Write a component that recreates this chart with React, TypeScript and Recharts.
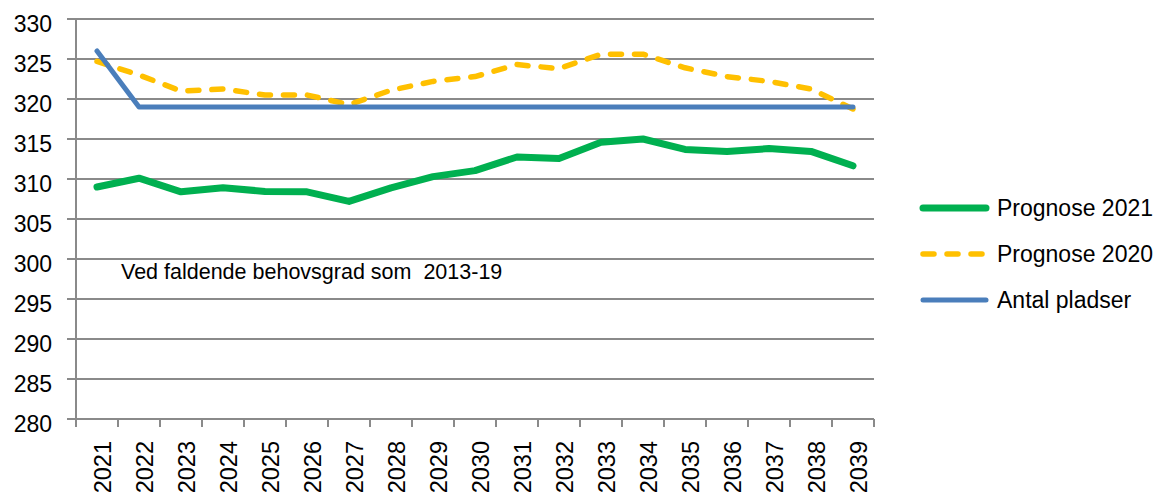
import React from "react"
import { CartesianGrid, Line, LineChart, XAxis, YAxis } from "recharts"

const years = [
  "2021", "2022", "2023", "2024", "2025", "2026", "2027", "2028", "2029", "2030",
  "2031", "2032", "2033", "2034", "2035", "2036", "2037", "2038", "2039",
]
const prognose2021 = [
  309.0, 310.1, 308.4, 308.9, 308.45, 308.4, 307.2, 308.9, 310.3, 311.05,
  312.75, 312.55, 314.6, 315.0, 313.7, 313.45, 313.8, 313.45, 311.65,
]
const prognose2020 = [
  324.7, 323.0, 321.0, 321.25, 320.5, 320.5, 319.3, 321.1, 322.2, 322.8,
  324.3, 323.8, 325.6, 325.6, 323.9, 322.8, 322.2, 321.25, 318.75,
]
const antalPladser = [
  326, 319, 319, 319, 319, 319, 319, 319, 319, 319,
  319, 319, 319, 319, 319, 319, 319, 319, 319,
]
const yTicks = [280, 285, 290, 295, 300, 305, 310, 315, 320, 325, 330]

const FONT = "'Liberation Sans', Arial, sans-serif"
const GRID = "#8a8a8a"

const series = [
  { key: "p2021", name: "Prognose 2021", color: "#00b050", width: 7, dash: undefined },
  { key: "p2020", name: "Prognose 2020", color: "#ffc000", width: 5.5, dash: "11 13" },
  { key: "antal", name: "Antal pladser", color: "#4a7ebb", width: 5, dash: undefined },
]

const data = years.map((year, i) => ({
  year,
  p2021: prognose2021[i],
  p2020: prognose2020[i],
  antal: antalPladser[i],
}))

const HALF_BAND = 21

function XTick(props: any) {
  const { x, y, payload, index } = props
  return (
    <g>
      <line x1={x - HALF_BAND} x2={x - HALF_BAND} y1={y} y2={y + 8} stroke={GRID} strokeWidth={2} />
      {index === years.length - 1 && (
        <line x1={x + HALF_BAND} x2={x + HALF_BAND} y1={y} y2={y + 8} stroke={GRID} strokeWidth={2} />
      )}
      <text
        transform={`translate(${x + 14},${y + 22}) rotate(-90)`}
        textAnchor="end"
        fontSize={23.5}
        fontFamily={FONT}
        fill="#000"
      >
        {payload.value}
      </text>
    </g>
  )
}

function YTick(props: any) {
  const { x, y, payload } = props
  return (
    <text x={x} y={y + 13} textAnchor="end" fontSize={23} fontFamily={FONT} fill="#000">
      {payload.value}
    </text>
  )
}

export default function App() {
  return (
    <div style={{ position: "absolute", left: 0, top: 0, width: 1158, height: 495, background: "#fff" }}>
      <LineChart
        width={1158}
        height={495}
        data={data}
        margin={{ top: 19, right: 284, left: 0, bottom: 0 }}
      >
        <CartesianGrid vertical={false} stroke={GRID} strokeWidth={2} />
        <XAxis
          dataKey="year"
          height={76}
          padding={{ left: HALF_BAND, right: HALF_BAND }}
          axisLine={{ stroke: GRID, strokeWidth: 2 }}
          tickLine={false}
          tickSize={0}
          tickMargin={0}
          interval={0}
          tick={<XTick />}
        />
        <YAxis
          domain={[280, 330]}
          ticks={yTicks}
          width={76}
          interval={0}
          axisLine={{ stroke: GRID, strokeWidth: 2 }}
          tickLine={{ stroke: GRID, strokeWidth: 2 }}
          tickSize={9}
          tickMargin={15}
          tick={<YTick />}
        />
        {series.map((s) => (
          <Line
            key={s.key}
            dataKey={s.key}
            name={s.name}
            type="linear"
            stroke={s.color}
            strokeWidth={s.width}
            strokeDasharray={s.dash}
            strokeLinecap="round"
            strokeLinejoin="round"
            dot={false}
            activeDot={false}
            isAnimationActive={false}
          />
        ))}
      </LineChart>
      <svg
        width={1158}
        height={495}
        style={{ position: "absolute", left: 0, top: 0, pointerEvents: "none" }}
      >
        <text x={121} y={279} fontSize={21.5} fontFamily={FONT} fill="#000" style={{ whiteSpace: "pre" }}>
          {"Ved faldende behovsgrad som  2013-19"}
        </text>
        {series.map((s, i) => {
          const cy = 208 + i * 46
          return (
            <g key={s.key}>
              <line
                x1={923}
                x2={986}
                y1={cy}
                y2={cy}
                stroke={s.color}
                strokeWidth={s.width}
                strokeLinecap="round"
                strokeDasharray={s.dash ? "11 13" : undefined}
              />
              <text x={997} y={cy + 8} fontSize={23} fontFamily={FONT} fill="#000">
                {s.name}
              </text>
            </g>
          )
        })}
      </svg>
    </div>
  )
}
